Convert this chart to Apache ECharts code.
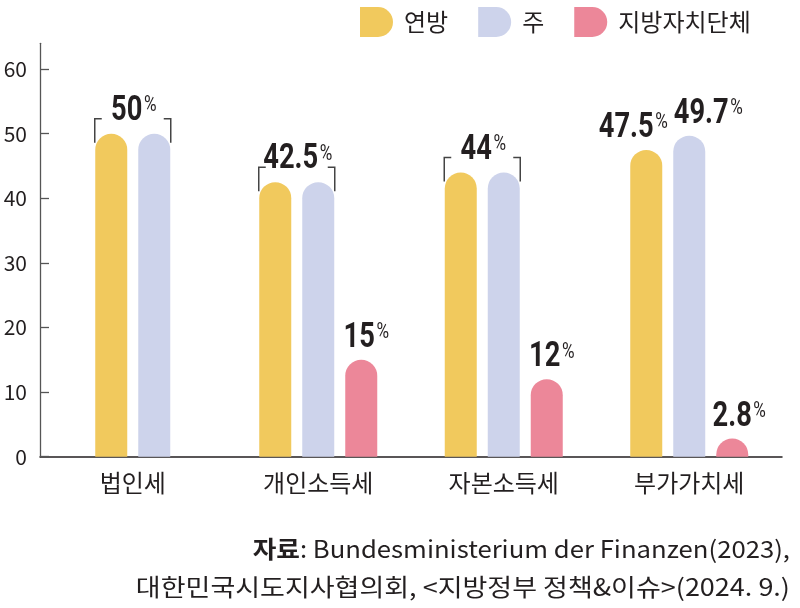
<!DOCTYPE html>
<html>
<head>
<meta charset="utf-8">
<script src="https://cdn.jsdelivr.net/npm/echarts@6/dist/echarts.min.js"></script>
<style>
html,body{margin:0;padding:0;background:#fff;}
#chart{width:800px;height:608px;}
</style>
</head>
<body>
<div id="chart"></div>
<script>
const categories = ['법인세', '개인소득세', '자본소득세', '부가가치세'];
const seriesNames = ['연방', '주', '지방자치단체'];
const federal = [50, 42.5, 44, 47.5];
const state = [50, 42.5, 44, 49.7];
const local = [null, 15, 12, 2.8];
const yTicks = [0, 10, 20, 30, 40, 50, 60];
const sourceLabel = '자료';
const sourceLine1 = ': Bundesministerium der Finanzen(2023),';
const sourceLine2 = '대한민국시도지사협의회, <지방정부 정책&이슈>(2024. 9.)';

// styling / layout (kept apart from data)
const colors = ['#F1C95D', '#CDD3EB', '#EC8799'];
const BW = 32, STEP = 43;
const labelShift = { 3: [-18, 14, 2] };  // per-category horizontal nudges for crowded labels
const TXT = '#231f20';
const KR = "'Noto Sans CJK KR', 'Noto Sans', sans-serif";
const NUM = "Roboto, 'Noto Sans', sans-serif";
const NUM_SCALE = 0.78;

const allVals = [federal, state, local];

function richLabel(v) {
  return '{v|' + v + '}{p|%}';
}
const richStyle = {
  v: { fontSize: 35, fontWeight: 'bold', fontFamily: NUM, fill: TXT, lineHeight: 35, verticalAlign: 'bottom' },
  p: { fontSize: 22, fontFamily: NUM, fill: TXT, lineHeight: 22, verticalAlign: 'top', padding: [1, 0, 0, 2] }
};

function labelEl(x, y, v) {
  return {
    type: 'text', x: x, y: y, scaleX: NUM_SCALE,
    style: { text: richLabel(v), rich: richStyle, align: 'center', verticalAlign: 'bottom' }
  };
}

function renderItem(params, api) {
  const cat = api.value(0), val = api.value(1);
  const s = params.seriesIndex;
  const vals = allVals.map(a => a[cat]);
  const present = [0, 1, 2].filter(k => vals[k] != null);
  const k = present.indexOf(s), n = present.length;
  const base = api.coord([cat, 0]);
  const top = api.coord([cat, val]);
  const cx = base[0] + (k - (n - 1) / 2) * STEP;
  const x0 = cx - BW / 2;
  const h = base[1] - top[1];
  const r = Math.min(BW / 2, h);
  const children = [{
    type: 'rect',
    shape: { x: x0, y: top[1], width: BW, height: h, r: [r, r, 0, 0] },
    style: { fill: api.visual('color') }
  }];
  const pairEqual = vals[0] != null && vals[0] === vals[1];
  if (s === 0 && pairEqual) {
    const L = x0 - 0.5, R = cx + STEP + BW / 2 + 0.5, T = top[1] - 15;
    const ls = { stroke: '#444', lineWidth: 1.5, fill: null };
    children.push({ type: 'polyline', shape: { points: [[L + 7, T], [L, T], [L, T + 24]] }, style: ls });
    children.push({ type: 'polyline', shape: { points: [[R - 7, T], [R, T], [R, T + 24]] }, style: ls });
    children.push(labelEl((L + R) / 2 + 1, T + 10, val));
  } else if (!(s === 1 && pairEqual)) {
    const sh = (labelShift[cat] || [0, 0, 0])[s] || 0;
    children.push(labelEl(cx + 5 + sh, top[1] - 4, val));
  }
  return { type: 'group', children };
}

const series = allVals.map((arr, si) => ({
  name: seriesNames[si],
  type: 'custom',
  renderItem,
  itemStyle: { color: colors[si] },
  encode: { x: 0, y: 1 },
  data: arr.map((v, i) => v == null ? null : [i, v]).filter(d => d),
  z: 3
}));

const chart = echarts.init(document.getElementById('chart'), null, { renderer: 'canvas' });
chart.setOption({
  animation: false,
  backgroundColor: '#fff',
  legend: {
    left: 355, top: 2,
    itemWidth: 33, itemHeight: 30, itemGap: 30,
    icon: 'path://M0,0 H18 A15,15 0 0 1 18,30 H0 Z',
    textStyle: { fontSize: 24, fontFamily: KR, color: TXT, padding: [0, 0, 0, 6] },
    data: seriesNames
  },
  grid: { left: 40, right: 18, top: 43.3, bottom: 151.3 },
  xAxis: {
    type: 'category',
    data: categories,
    axisTick: { show: false },
    axisLine: { lineStyle: { color: TXT, width: 1.5 } },
    axisLabel: { fontSize: 24, fontFamily: KR, color: TXT, margin: 14 }
  },
  yAxis: {
    type: 'value', min: 0, max: 64, interval: 10,
    splitLine: { show: false },
    axisLine: { show: true, lineStyle: { color: '#555', width: 1.3 } },
    axisTick: { show: true, inside: true, length: 9, lineStyle: { color: '#555', width: 1.3 }, customValues: yTicks },
    axisLabel: { fontSize: 21, fontFamily: KR, color: TXT, margin: 13, customValues: yTicks }
  },
  graphic: [
    {
      type: 'text', x: 790, y: 549, scaleX: 1.07,
      style: {
        text: '{b|' + sourceLabel + '}{n|' + sourceLine1 + '}',
        align: 'right', verticalAlign: 'middle',
        rich: {
          b: { fontSize: 24, fontWeight: 'bold', fontFamily: KR, fill: TXT },
          n: { fontSize: 24, fontFamily: KR, fill: TXT }
        }
      }
    },
    {
      type: 'text', x: 790, y: 587, scaleX: 1.125,
      style: { text: sourceLine2, fontSize: 24, fontFamily: KR, fill: TXT, align: 'right', verticalAlign: 'middle' }
    }
  ],
  series
});
</script>
</body>
</html>
